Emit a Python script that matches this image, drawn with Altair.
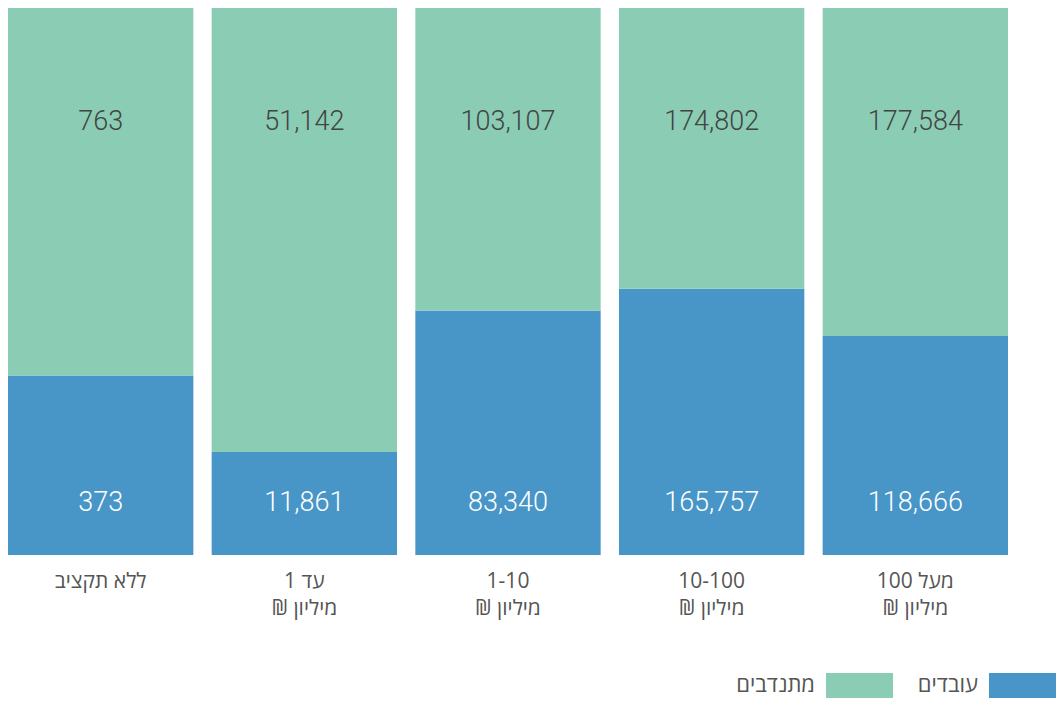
import altair as alt
import pandas as pd

# ---- data ----
categories = ["ללא תקציב", "עד 1\nמיליון ₪", "1-10\nמיליון ₪", "10-100\nמיליון ₪", "מעל 100\nמיליון ₪"]
workers = [373, 11861, 83340, 165757, 118666]        # עובדים
volunteers = [763, 51142, 103107, 174802, 177584]    # מתנדבים
series_names = ["עובדים", "מתנדבים"]
legend_order = ["מתנדבים", "עובדים"]

BLUE = "#4896C8"
GREEN = "#8ACDB4"
FONT_AXIS = "Open Sans"
FONT_VAL = "Roboto"

LEG_W = 1048
LEG_STEP = 163


def rtl(label):
    # wrap every line in a right-to-left embedding so Hebrew lines read correctly
    return "\n".join("\u202b" + line + "\u202c" for line in label.split("\n"))


cat_labels = [rtl(c) for c in categories]

rows = []
for c, w, v in zip(cat_labels, workers, volunteers):
    rows.append({"category": c, "series": series_names[0], "value": w, "ord": 0})
    rows.append({"category": c, "series": series_names[1], "value": v, "ord": 1})
df = pd.DataFrame(rows)

color_scale = alt.Scale(domain=series_names, range=[BLUE, GREEN])

x_enc = alt.X(
    "category:N",
    sort=cat_labels,
    title=None,
    scale=alt.Scale(paddingInner=0.09, paddingOuter=0),
    axis=alt.Axis(
        labelAngle=0,
        domain=False,
        ticks=False,
        labelFontSize=21,
        labelFont=FONT_AXIS,
        labelColor="#555555",
        labelPadding=15,
        labelLineHeight=27,
        labelExpr="split(datum.label, '\\n')",
    ),
)

base = alt.Chart(df).encode(x=x_enc)

bars = base.mark_bar().encode(
    y=alt.Y("value:Q", stack="normalize", axis=None, scale=alt.Scale(domain=[0, 1])),
    color=alt.Color("series:N", scale=color_scale, legend=None),
    order=alt.Order("ord:Q"),
)

labels = base.transform_calculate(
    pos="datum.ord == 0 ? 0.095 : 0.791"
).mark_text(fontSize=27, font=FONT_VAL, fontWeight=300, baseline="middle").encode(
    y=alt.Y("pos:Q", stack=None),
    text=alt.Text("value:Q", format=","),
    color=alt.when(alt.datum.ord == 0).then(alt.value("white")).otherwise(alt.value("#444444")),
)

main = alt.layer(bars, labels).properties(width=1000, height=547)

# ---- custom right-to-left legend ----
leg_df = pd.DataFrame({"series": legend_order})
leg_base = alt.Chart(leg_df).encode(
    x=alt.X(
        "series:N",
        sort=legend_order,
        axis=None,
        title=None,
        scale=alt.Scale(paddingInner=0, paddingOuter=0, range=[LEG_W - 2 * LEG_STEP, LEG_W]),
    )
)
swatch = leg_base.mark_bar(width=67, xOffset=48).encode(
    y=alt.value(0),
    y2=alt.value(25),
    color=alt.Color("series:N", scale=color_scale, legend=None),
)
leg_text = leg_base.mark_text(
    align="right", baseline="middle", dx=3.5, fontSize=22, font=FONT_AXIS, color="#555555"
).encode(text="series:N", y=alt.value(12))
legend = alt.layer(swatch, leg_text).properties(width=LEG_W, height=25)

chart = (
    alt.vconcat(main, legend, spacing=55)
    .properties(padding=0, background="white")
    .configure_view(stroke=None)
)

chart.save("out.html", embed_options={"renderer": "svg", "actions": False})
